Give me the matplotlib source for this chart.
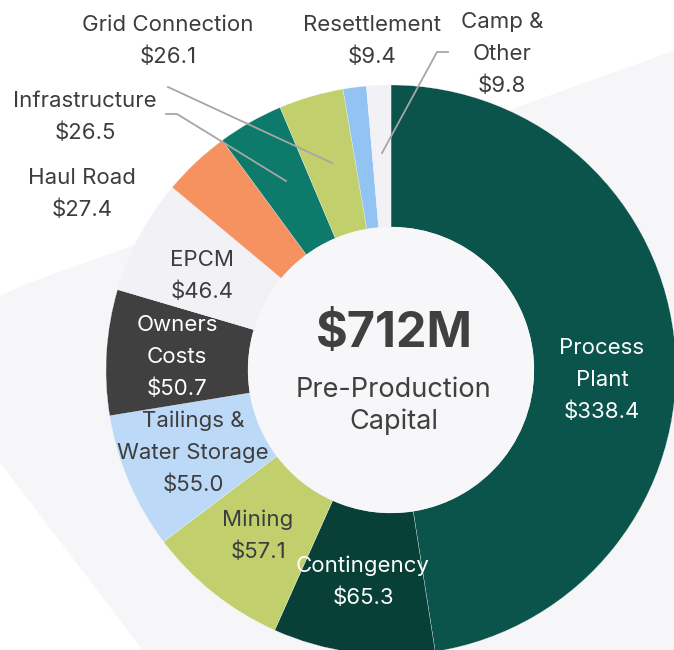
import matplotlib
matplotlib.use('Agg')
import matplotlib.pyplot as plt
from matplotlib.patches import Circle, PathPatch
from matplotlib.path import Path

# data, clockwise from 12 o'clock
categories = ['Process\nPlant', 'Contingency', 'Mining', 'Tailings &\nWater Storage',
              'Owners\nCosts', 'EPCM', 'Haul Road', 'Infrastructure',
              'Grid Connection', 'Resettlement', 'Camp &\nOther']
values = [338.4, 65.3, 57.1, 55.0, 50.7, 46.4, 27.4, 26.5, 26.1, 9.4, 9.8]
colors = ['#0a544b', '#084038', '#c1d06c', '#bcdaf8', '#404040', '#f1f1f6',
          '#f69160', '#0d7a6c', '#c1d06c', '#92c3f2', '#f1f1f6']
total_text = '$712M'
subtitle = ['Pre-Production', 'Capital']

# label placement (pixel coords, top line centre) and text colour
label_pos = [(602, 348), (363, 566), (258, 520), (193, 421), (177, 325), (202, 260),
             (82, 178), (85, 101), (168, 25), (372, 25), (502, 22)]
label_col = ['white', 'white', '#3d3d3d', '#3d3d3d', 'white', '#3d3d3d',
             '#3d3d3d', '#3d3d3d', '#3d3d3d', '#3d3d3d', '#3d3d3d']
leaders = {
    7: [(166, 114), (177, 114), (286, 181)],
    8: [(168, 87), (332, 163)],
    10: [(448, 52), (437, 52), (382, 153)],
}

plt.rcParams['font.family'] = ['Inter', 'DejaVu Sans']
W, H = 674, 650
cx, cy, R = 391, 370, 285

fig = plt.figure(figsize=(W / 100, H / 100), dpi=100)
ax = fig.add_axes([0, 0, 1, 1])

# background rounded shape
verts = [(37, 280), (690, 45), (690, 660), (150, 660), (-13, 445), (-104, 330), (37, 280)]
codes = [Path.MOVETO, Path.LINETO, Path.LINETO, Path.LINETO, Path.LINETO, Path.CURVE3, Path.CURVE3]
ax.add_patch(PathPatch(Path(verts, codes), facecolor='#f6f6f9', edgecolor='none', zorder=0))

ax.pie(values, colors=colors, startangle=-90, counterclock=True, center=(cx, cy), radius=R,
       wedgeprops=dict(width=142, edgecolor='#f7f7fa', linewidth=0.2))
ax.add_patch(Circle((cx, cy), 143, facecolor='#f7f7fa', edgecolor='none', zorder=3))

for i, pts in leaders.items():
    xs, ys = zip(*pts)
    ax.plot(xs, ys, color='#a6a6a6', lw=1.3, zorder=4)

lh = 32
for name, v, (x, y), c in zip(categories, values, label_pos, label_col):
    lines = name.split('\n') + [f'${v:.1f}']
    for k, line in enumerate(lines):
        ax.text(x, y + k * lh, line, ha='center', va='center', fontsize=16, color=c, zorder=5)

ax.text(394, 334, total_text, ha='center', va='center', fontsize=35, fontweight='bold',
        color='#404040', zorder=5)
for k, line in enumerate(subtitle):
    ax.text(394, 390 + k * 32, line, ha='center', va='center', fontsize=19.5, color='#404040', zorder=5)

ax.set_xlim(0, W)
ax.set_ylim(H, 0)
ax.set_aspect('equal')
ax.axis('off')
fig.savefig('out.png', dpi=100, facecolor='white')
